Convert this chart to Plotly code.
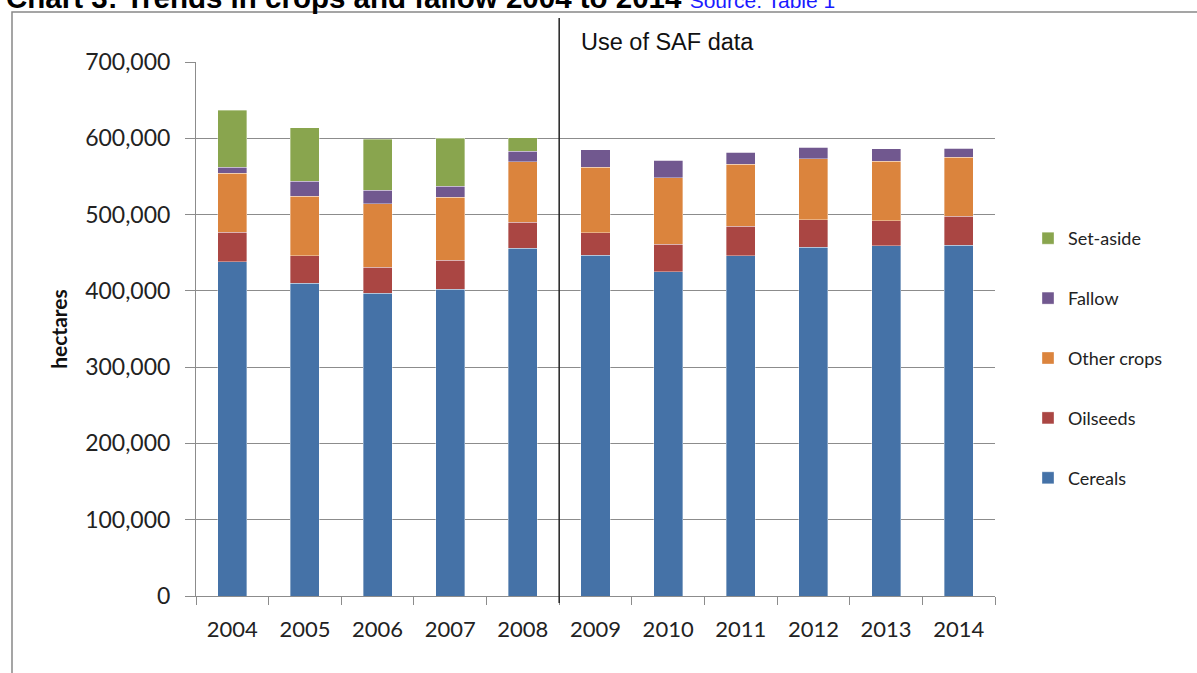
import plotly.graph_objects as go

years = ["2004", "2005", "2006", "2007", "2008", "2009", "2010", "2011", "2012", "2013", "2014"]
cereals = [438000, 410000, 397000, 402000, 456000, 447000, 425000, 446000, 457000, 459000, 460000]
oilseeds = [39000, 36000, 34000, 38000, 34000, 29000, 36000, 39000, 36000, 33000, 38000]
other_crops = [77000, 78000, 83000, 83000, 79000, 86000, 87000, 81000, 80000, 78000, 77000]
fallow = [8000, 20000, 18000, 14000, 14000, 23000, 23000, 16000, 15000, 16000, 12000]
set_aside = [75000, 70000, 67000, 63000, 18000, 0, 0, 0, 0, 0, 0]

series = [
    ("Cereals", cereals, "#4572A7"),
    ("Oilseeds", oilseeds, "#AA4643"),
    ("Other crops", other_crops, "#DB843D"),
    ("Fallow", fallow, "#71588F"),
    ("Set-aside", set_aside, "#89A54E"),
]

FONT = "Lato"
ARIAL = "Liberation Sans"

fig = go.Figure()
n = len(series)
for i, (name, vals, col) in enumerate(series):
    fig.add_trace(go.Bar(
        x=years, y=vals, name=name, legendgroup=name, legendrank=n - i,
        marker=dict(color=col, line=dict(width=0.6, color="rgba(255,255,255,0.6)")),
    ))

W, H = 1197, 673
L, R, T, B = 196, 202, 62, 77
pw, ph = W - L - R, H - T - B

def px_x(p):
    return (p - L) / pw

def px_y(p):
    return (H - B - p) / ph

fig.update_layout(
    width=W, height=H,
    margin=dict(l=L, r=R, t=T, b=B, autoexpand=False),
    barmode="stack", bargap=0.6,
    plot_bgcolor="white", paper_bgcolor="white",
    font=dict(family=FONT, color="#222222", size=22),
    legend=dict(
        traceorder="grouped", tracegroupgap=33.5,
        x=px_x(1028), xanchor="left", y=px_y(220), yanchor="top",
        font=dict(size=18, family=FONT, color="#222222"),
        itemwidth=30,
    ),
    showlegend=True,
)

fig.update_yaxes(
    range=[0, 700000], dtick=100000, tickformat=",d",
    tickfont=dict(size=23),
    showgrid=True, gridcolor="#8c8c8c", gridwidth=1,
    showline=True, linecolor="#8c8c8c", linewidth=1,
    ticks="outside", ticklen=10, tickcolor="#8c8c8c",
    ticklabelstandoff=10,
    title=dict(text="<b>hectares</b>", font=dict(size=21, family=FONT, color="#111111"), standoff=11),
    zeroline=False,
)
fig.update_xaxes(
    type="category", tickson="boundaries",
    showline=True, linecolor="#8c8c8c", linewidth=1,
    ticks="outside", ticklen=8, tickcolor="#8c8c8c",
    ticklabelstandoff=14,
)

# boundary marking the switch to SAF data
fig.add_shape(type="line", xref="x", yref="paper",
              x0=4.5, x1=4.5, y0=px_y(603), y1=px_y(18),
              line=dict(color="#222222", width=1.5))
fig.add_annotation(text="Use of SAF data", xref="paper", yref="paper",
                   x=px_x(579), y=px_y(42), xanchor="left", yanchor="middle",
                   showarrow=False, font=dict(size=23.5, family=ARIAL, color="#111111"))

# frame around the chart
fig.add_shape(type="rect", xref="paper", yref="paper",
              x0=px_x(12), x1=px_x(1210), y0=px_y(690), y1=px_y(12),
              line=dict(color="#888888", width=1.5), fillcolor="rgba(0,0,0,0)", layer="below")

# heading
fig.add_annotation(
    text="<b>Chart 3: Trends in crops and fallow 2004 to 2014</b> <span style='color:#1a1aff;font-size:21px;font-weight:normal'>Source: Table 1</span>",
    xref="paper", yref="paper", x=px_x(4), y=px_y(16), xanchor="left", yanchor="bottom",
    showarrow=False, font=dict(size=29.5, family=ARIAL, color="#000000"),
)

fig.write_html("out.html")
